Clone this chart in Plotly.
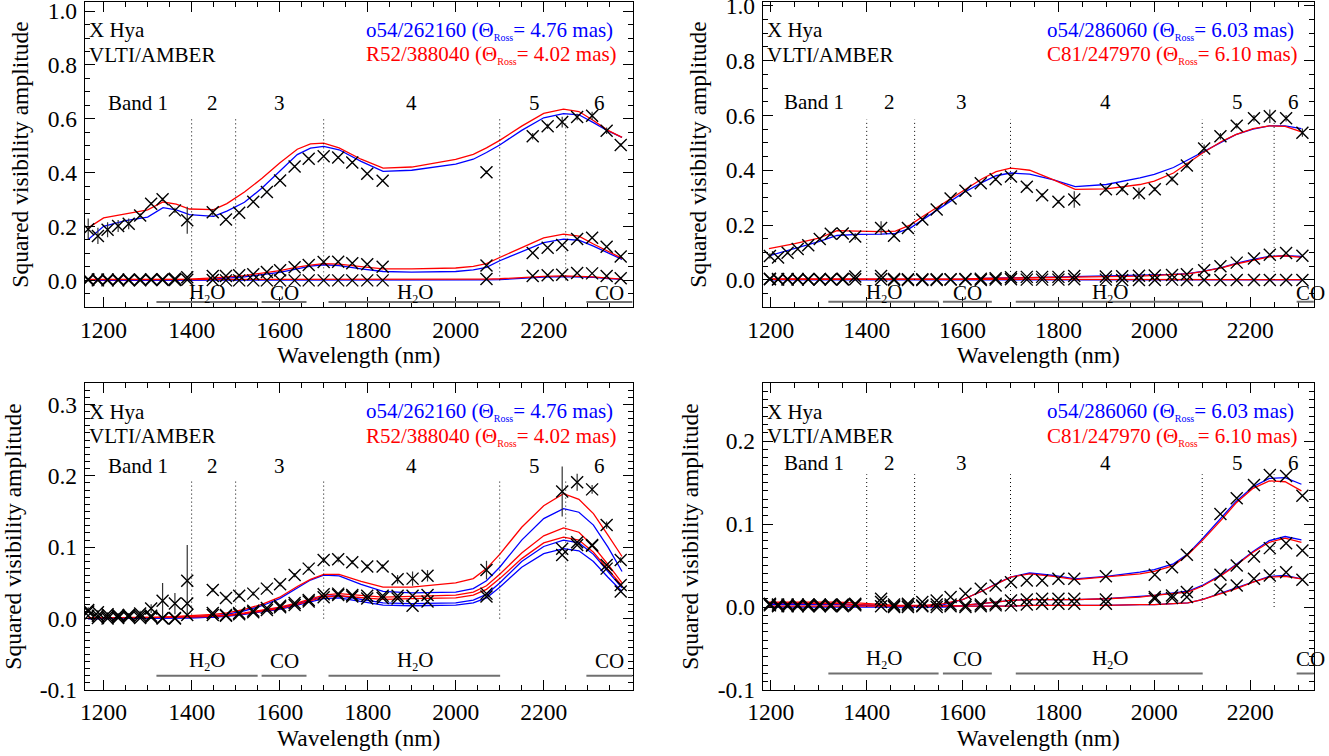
import plotly.graph_objects as go

# ---------------- data ----------------
# Panel 1 (top-left): o54/262160 (blue) vs R52/388040 (red)
P1_WL = [1165, 1187, 1209, 1233, 1257, 1283, 1308, 1334, 1362, 1390, 1448, 1478, 1508, 1540, 1571, 1601,
         1634, 1666, 1700, 1733, 1765, 1799, 1834, 2070, 2175, 2209, 2242, 2276, 2310, 2343, 2375]
P1_A = [0.190, 0.165, 0.188, 0.202, 0.210, 0.241, 0.285, 0.301, 0.260, 0.223, 0.253, 0.226, 0.251, 0.292,
        0.328, 0.371, 0.423, 0.452, 0.461, 0.456, 0.438, 0.396, 0.370, 0.402, 0.535, 0.572, 0.588, 0.607,
        0.611, 0.556, 0.503]
P1_A_ERR = [0.040, 0.030, 0.028, 0.022, 0.020, 0.008, 0.006, 0.006, 0.010, 0.050, 0.012, 0.005, 0.005, 0.004,
            0.004, 0.004, 0.004, 0.004, 0.004, 0.004, 0.004, 0.004, 0.004, 0.006, 0.012, 0.010, 0.020, 0.012,
            0.015, 0.012, 0.006]
P1_B = [0.004, 0.003, 0.003, 0.003, 0.003, 0.003, 0.004, 0.004, 0.006, 0.012, 0.016, 0.016, 0.019, 0.023,
        0.031, 0.038, 0.049, 0.057, 0.068, 0.069, 0.064, 0.060, 0.051, 0.055, 0.102, 0.121, 0.131, 0.154,
        0.158, 0.125, 0.089]
P1_C = [0.001, 0.000, 0.000, 0.000, 0.000, 0.000, 0.001, 0.001, 0.001, 0.002, 0.001, 0.000, 0.000, 0.000,
        0.000, 0.000, 0.000, 0.000, 0.000, 0.000, 0.000, 0.000, 0.000, 0.005, 0.016, 0.019, 0.021, 0.027,
        0.026, 0.016, 0.008]

# Panel 3 (bottom-left)
P3_WL = [1165, 1187, 1209, 1233, 1257, 1283, 1308, 1334, 1362, 1390, 1448, 1478, 1508, 1540, 1571, 1601,
         1634, 1666, 1700, 1733, 1765, 1799, 1834, 1868, 1902, 1936, 2070, 2242, 2276, 2310, 2343, 2375]
P3_A = [0.012, 0.009, 0.006, 0.005, 0.005, 0.007, 0.014, 0.025, 0.021, 0.053, 0.040, 0.029, 0.032, 0.035,
        0.042, 0.048, 0.061, 0.070, 0.082, 0.083, 0.079, 0.073, 0.073, 0.055, 0.056, 0.060, 0.068, 0.178,
        0.191, 0.181, 0.131, 0.082]
P3_A_ERR = [0.004, 0.003, 0.003, 0.003, 0.003, 0.004, 0.006, 0.025, 0.015, 0.050, 0.003, 0.003, 0.003, 0.003,
            0.003, 0.003, 0.003, 0.003, 0.004, 0.004, 0.003, 0.003, 0.003, 0.006, 0.010, 0.008, 0.013, 0.035,
            0.012, 0.006, 0.005, 0.004]
P3_B = [0.010, 0.004, 0.003, 0.003, 0.004, 0.004, 0.004, 0.001, 0.001, 0.021, 0.008, 0.005, 0.008, 0.011,
        0.015, 0.018, 0.022, 0.026, 0.034, 0.035, 0.033, 0.032, 0.032, 0.032, 0.032, 0.033, 0.035, 0.098,
        0.107, 0.103, 0.075, 0.047]
P3_C = [0.004, 0.001, 0.000, 0.001, 0.002, 0.001, 0.002, 0.000, 0.000, 0.005, 0.005, 0.004, 0.006, 0.009,
        0.012, 0.016, 0.019, 0.024, 0.030, 0.033, 0.031, 0.028, 0.029, 0.028, 0.018, 0.024, 0.031, 0.089,
        0.103, 0.102, 0.070, 0.038]

# model wavelength grid, left panels
LM_WL = [1165, 1200, 1250, 1300, 1335, 1365, 1395, 1450, 1480, 1520, 1560, 1600, 1640, 1670, 1700, 1735,
         1785, 1835, 1900, 2000, 2040, 2070, 2100, 2150, 2200, 2245, 2280, 2313, 2346, 2378]
P1_RED_A = [0.195, 0.232, 0.247, 0.262, 0.291, 0.283, 0.265, 0.263, 0.285, 0.328, 0.379, 0.436, 0.487, 0.507,
            0.510, 0.492, 0.450, 0.417, 0.421, 0.449, 0.468, 0.492, 0.520, 0.573, 0.620, 0.636, 0.627, 0.594,
            0.557, 0.531]
P1_BLUE_A = [0.152, 0.201, 0.222, 0.235, 0.270, 0.262, 0.244, 0.238, 0.257, 0.290, 0.343, 0.405, 0.467, 0.491,
             0.498, 0.485, 0.442, 0.405, 0.409, 0.432, 0.450, 0.475, 0.503, 0.557, 0.604, 0.619, 0.615, 0.586,
             0.555, 0.531]
P1_RED_B = [0.004, 0.004, 0.004, 0.005, 0.005, 0.005, 0.005, 0.009, 0.012, 0.018, 0.027, 0.036, 0.049, 0.057,
            0.062, 0.060, 0.051, 0.043, 0.043, 0.046, 0.052, 0.062, 0.085, 0.122, 0.158, 0.172, 0.164, 0.135,
            0.108, 0.082]
P1_BLUE_B = [0.001, 0.001, 0.001, 0.002, 0.002, 0.002, 0.002, 0.005, 0.008, 0.013, 0.021, 0.030, 0.043, 0.053,
             0.058, 0.055, 0.043, 0.033, 0.031, 0.033, 0.039, 0.048, 0.073, 0.108, 0.140, 0.153, 0.149, 0.127,
             0.102, 0.078]
P1_RED_C = [0.003, 0.003, 0.003, 0.003, 0.003, 0.003, 0.003, 0.003, 0.003, 0.003, 0.003, 0.003, 0.004, 0.004,
            0.004, 0.004, 0.004, 0.004, 0.004, 0.004, 0.004, 0.005, 0.006, 0.011, 0.015, 0.017, 0.016, 0.013,
            0.008, 0.005]
P1_BLUE_C = [0.000, 0.000, 0.000, 0.000, 0.000, 0.000, 0.000, 0.000, 0.000, 0.000, 0.000, 0.001, 0.001, 0.001,
             0.001, 0.001, 0.001, 0.001, 0.001, 0.001, 0.001, 0.002, 0.003, 0.008, 0.012, 0.014, 0.013, 0.011,
             0.007, 0.004]

P3_RED_A = [0.000, 0.000, 0.000, 0.001, 0.002, 0.003, 0.004, 0.006, 0.008, 0.013, 0.020, 0.030, 0.045, 0.055,
            0.062, 0.062, 0.052, 0.044, 0.044, 0.050, 0.056, 0.070, 0.090, 0.128, 0.158, 0.175, 0.167, 0.147,
            0.117, 0.087]
P3_BLUE_A = [0.000, 0.000, 0.000, 0.001, 0.001, 0.002, 0.002, 0.004, 0.006, 0.011, 0.018, 0.028, 0.043, 0.054,
             0.061, 0.060, 0.048, 0.038, 0.036, 0.037, 0.042, 0.053, 0.072, 0.110, 0.140, 0.154, 0.149, 0.131,
             0.100, 0.066]
P3_RED_B = [0.001, 0.001, 0.001, 0.002, 0.002, 0.002, 0.003, 0.004, 0.005, 0.008, 0.012, 0.016, 0.022, 0.027,
            0.033, 0.035, 0.033, 0.030, 0.031, 0.033, 0.037, 0.046, 0.062, 0.092, 0.116, 0.127, 0.121, 0.101,
            0.076, 0.050]
P3_BLUE_B = [0.000, 0.000, 0.000, 0.001, 0.001, 0.001, 0.001, 0.002, 0.004, 0.007, 0.011, 0.015, 0.021, 0.026,
             0.031, 0.032, 0.027, 0.022, 0.021, 0.022, 0.026, 0.034, 0.050, 0.080, 0.101, 0.110, 0.106, 0.090,
             0.066, 0.043]
P3_RED_C = [0.001, 0.001, 0.001, 0.001, 0.002, 0.002, 0.002, 0.003, 0.004, 0.007, 0.010, 0.014, 0.020, 0.025,
            0.030, 0.032, 0.030, 0.027, 0.028, 0.029, 0.033, 0.041, 0.056, 0.084, 0.106, 0.114, 0.110, 0.093,
            0.069, 0.046]
P3_BLUE_C = [0.000, 0.000, 0.000, 0.000, 0.001, 0.001, 0.001, 0.002, 0.003, 0.006, 0.009, 0.013, 0.019, 0.024,
             0.028, 0.029, 0.024, 0.019, 0.018, 0.019, 0.022, 0.029, 0.044, 0.072, 0.091, 0.098, 0.095, 0.080,
             0.058, 0.038]

# Panel 2 (top-right): o54/286060 (blue) vs C81/247970 (red)
P2_WL = [1198, 1215, 1235, 1256, 1278, 1302, 1325, 1350, 1376, 1430, 1457, 1486, 1516, 1546, 1575, 1606,
         1638, 1669, 1701, 1734, 1766, 1800, 1833, 1899, 1933, 1968, 2001, 2037, 2068, 2104, 2138, 2172,
         2208, 2241, 2275, 2309]
P2_A = [0.087, 0.082, 0.099, 0.113, 0.126, 0.149, 0.168, 0.169, 0.158, 0.189, 0.161, 0.189, 0.220, 0.257,
        0.297, 0.325, 0.353, 0.367, 0.377, 0.340, 0.309, 0.285, 0.293, 0.331, 0.332, 0.316, 0.331, 0.368,
        0.417, 0.479, 0.524, 0.562, 0.590, 0.597, 0.590, 0.537]
P2_A_ERR = [0.010, 0.005, 0.005, 0.005, 0.005, 0.005, 0.008, 0.006, 0.012, 0.025, 0.006, 0.006, 0.005, 0.005,
            0.005, 0.005, 0.005, 0.006, 0.012, 0.008, 0.008, 0.006, 0.030, 0.010, 0.010, 0.020, 0.008, 0.010,
            0.010, 0.015, 0.012, 0.010, 0.012, 0.025, 0.012, 0.015]
P2_B = [0.004, 0.003, 0.003, 0.003, 0.003, 0.003, 0.003, 0.004, 0.012, 0.014, 0.003, 0.002, 0.002, 0.002,
        0.002, 0.003, 0.004, 0.006, 0.010, 0.011, 0.011, 0.011, 0.014, 0.012, 0.013, 0.015, 0.016, 0.018,
        0.021, 0.035, 0.050, 0.063, 0.078, 0.092, 0.098, 0.088]
P2_C = [0.002, 0.001, 0.001, 0.001, 0.001, 0.001, 0.001, 0.001, 0.002, 0.002, 0.000, 0.000, 0.000, 0.000,
        0.001, 0.001, 0.000, 0.001, 0.002, 0.001, 0.001, 0.001, 0.002, 0.001, 0.000, 0.000, 0.000, 0.001,
        0.000, 0.000, 0.000, 0.000, 0.000, 0.000, 0.000, 0.000]

# Panel 4 (bottom-right)
P4_WL = [1198, 1215, 1235, 1256, 1278, 1302, 1325, 1350, 1376, 1430, 1457, 1486, 1516, 1546, 1575, 1606,
         1638, 1669, 1701, 1734, 1766, 1800, 1833, 1899, 2001, 2037, 2068, 2138, 2172, 2208, 2241, 2275, 2309]
P4_A = [0.004, 0.003, 0.003, 0.003, 0.003, 0.003, 0.003, 0.003, 0.004, 0.010, 0.003, 0.004, 0.006, 0.008,
        0.012, 0.016, 0.022, 0.026, 0.030, 0.032, 0.032, 0.034, 0.034, 0.037, 0.039, 0.048, 0.063, 0.112,
        0.131, 0.147, 0.159, 0.158, 0.134]
P4_B = [0.003, 0.002, 0.002, 0.002, 0.002, 0.002, 0.002, 0.002, 0.003, 0.006, 0.001, 0.002, 0.002, 0.003,
        0.003, 0.002, 0.003, 0.004, 0.008, 0.009, 0.010, 0.010, 0.010, 0.009, 0.012, 0.014, 0.018, 0.039,
        0.050, 0.061, 0.071, 0.077, 0.068]
P4_C = [0.002, 0.001, 0.001, 0.001, 0.001, 0.001, 0.001, 0.001, 0.002, 0.001, 0.000, 0.000, 0.001, 0.000,
        0.001, 0.000, 0.001, 0.002, 0.002, 0.003, 0.004, 0.004, 0.004, 0.004, 0.010, 0.011, 0.012, 0.021,
        0.026, 0.034, 0.038, 0.042, 0.033]

# model wavelength grid, right panels
RM_WL = [1196, 1250, 1300, 1338, 1380, 1430, 1460, 1490, 1520, 1560, 1600, 1640, 1670, 1700, 1740, 1790,
         1835, 1900, 1970, 2000, 2040, 2070, 2100, 2140, 2170, 2206, 2240, 2273, 2307]
P2_RED_A = [0.114, 0.132, 0.152, 0.180, 0.178, 0.176, 0.178, 0.200, 0.235, 0.280, 0.325, 0.368, 0.395, 0.408,
            0.400, 0.365, 0.330, 0.332, 0.348, 0.360, 0.390, 0.425, 0.462, 0.505, 0.530, 0.552, 0.562, 0.560,
            0.540]
P2_BLUE_A = [0.088, 0.115, 0.140, 0.162, 0.166, 0.167, 0.170, 0.188, 0.222, 0.270, 0.316, 0.355, 0.380, 0.390,
             0.386, 0.365, 0.340, 0.348, 0.372, 0.385, 0.410, 0.438, 0.467, 0.505, 0.530, 0.550, 0.562, 0.562,
             0.552]
P2_RED_B = [0.004, 0.004, 0.004, 0.003, 0.003, 0.002, 0.002, 0.002, 0.002, 0.003, 0.003, 0.005, 0.006, 0.008,
            0.009, 0.010, 0.011, 0.012, 0.014, 0.016, 0.019, 0.022, 0.030, 0.044, 0.058, 0.072, 0.084, 0.088,
            0.082]
P2_BLUE_B = [0.002, 0.002, 0.002, 0.002, 0.002, 0.001, 0.001, 0.001, 0.002, 0.002, 0.003, 0.005, 0.006, 0.008,
             0.010, 0.011, 0.012, 0.013, 0.015, 0.017, 0.020, 0.023, 0.031, 0.045, 0.060, 0.075, 0.086, 0.088,
             0.086]
P2_RED_C = [0.002, 0.002, 0.002, 0.002, 0.001, 0.001, 0.001, 0.001, 0.001, 0.001, 0.001, 0.001, 0.001, 0.001,
            0.001, 0.001, 0.001, 0.001, 0.001, 0.001, 0.001, 0.001, 0.001, 0.001, 0.001, 0.001, 0.001, 0.001,
            0.001]
P2_BLUE_C = [0.000, 0.000, 0.000, 0.000, 0.000, 0.000, 0.000, 0.000, 0.000, 0.000, 0.000, 0.000, 0.000, 0.000,
             0.000, 0.000, 0.000, 0.000, 0.000, 0.000, 0.000, 0.000, 0.000, 0.000, 0.000, 0.000, 0.000, 0.000,
             0.000]

P4_RED_A = [0.006, 0.006, 0.006, 0.006, 0.005, 0.003, 0.002, 0.002, 0.002, 0.004, 0.009, 0.019, 0.028, 0.036,
            0.040, 0.037, 0.033, 0.036, 0.040, 0.043, 0.050, 0.063, 0.080, 0.105, 0.125, 0.143, 0.152, 0.151,
            0.140]
P4_BLUE_A = [0.004, 0.004, 0.004, 0.004, 0.003, 0.002, 0.001, 0.001, 0.001, 0.003, 0.009, 0.019, 0.028, 0.036,
             0.041, 0.038, 0.034, 0.037, 0.042, 0.045, 0.052, 0.064, 0.082, 0.107, 0.127, 0.145, 0.155, 0.156,
             0.148]
P4_RED_B = [0.005, 0.005, 0.004, 0.004, 0.003, 0.002, 0.001, 0.001, 0.001, 0.001, 0.002, 0.004, 0.006, 0.008,
            0.009, 0.009, 0.009, 0.010, 0.012, 0.014, 0.016, 0.018, 0.025, 0.038, 0.050, 0.066, 0.078, 0.083,
            0.078]
P4_BLUE_B = [0.003, 0.003, 0.003, 0.003, 0.002, 0.001, 0.001, 0.001, 0.001, 0.001, 0.002, 0.004, 0.006, 0.008,
             0.009, 0.009, 0.009, 0.010, 0.013, 0.014, 0.017, 0.019, 0.026, 0.039, 0.051, 0.067, 0.080, 0.085,
             0.081]
P4_RED_C = [0.001, 0.001, 0.001, 0.001, 0.001, 0.001, 0.001, 0.001, 0.001, 0.001, 0.001, 0.001, 0.001, 0.001,
            0.002, 0.002, 0.002, 0.002, 0.003, 0.003, 0.004, 0.005, 0.009, 0.016, 0.022, 0.030, 0.036, 0.037,
            0.034]
P4_BLUE_C = [0.000, 0.000, 0.000, 0.000, 0.000, 0.000, 0.000, 0.000, 0.000, 0.000, 0.001, 0.001, 0.001, 0.001,
             0.002, 0.002, 0.002, 0.002, 0.003, 0.003, 0.004, 0.005, 0.009, 0.017, 0.023, 0.031, 0.037, 0.038,
             0.034]

# labels
SUB_ROSS = "<sub><span style='font-size:10px'>Ross</span></sub>"
SUB_2 = "<sub><span style='font-size:12px'>2</span></sub>"
LEFT_BLUE_LABEL = "o54/262160 (Θ" + SUB_ROSS + "= 4.76 mas)"
LEFT_RED_LABEL = "R52/388040 (Θ" + SUB_ROSS + "= 4.02 mas)"
RIGHT_BLUE_LABEL = "o54/286060 (Θ" + SUB_ROSS + "= 6.03 mas)"
RIGHT_RED_LABEL = "C81/247970 (Θ" + SUB_ROSS + "= 6.10 mas)"
BAND_TEXT = ["Band 1", "2", "3", "4", "5", "6"]
LEFT_BAND_X = [1277, 1448, 1600, 1900, 2178, 2327]
RIGHT_BAND_X = [1290, 1448, 1598, 1898, 2173, 2290]
BAND_EDGES = [1400, 1500, 1700, 2100, 2250]
MOL_TEXT = ["H" + SUB_2 + "O", "CO", "H" + SUB_2 + "O", "CO"]
MOL_SEGMENTS = [(1320, 1550), (1559, 1661), (1711, 2101), (2297, 2500)]
LEFT_MOL_X = [1435, 1610, 1907, 2350]
RIGHT_MOL_X = [1436, 1611, 1908, 2326]
X_TICKS = [1200, 1400, 1600, 1800, 2000, 2200]

# ---------------- figure ----------------
W, H = 1329, 756
FONT = "Liberation Serif"
BLUE, RED = "#0000ff", "#ff0000"
TICK_SIZE = 23.5
TITLE_SIZE = 23.5
TEXT_SIZE = 21


def fx(px):
    return px / W


def fy(py):
    return 1 - py / H


panels = [
    dict(xa="x", ya="y", xdom=[fx(84.7), fx(632.6)], ydom=[fy(307.3), fy(1.7)],
         xr=[1157, 2402], yr=[-0.1, 1.035], ymin=0.05,
         yvals=[0.0, 0.2, 0.4, 0.6, 0.8, 1.0], vtop=0.6,
         data=(P1_WL, P1_A, P1_A_ERR, P1_B, P1_C),
         mwl=LM_WL, models=[(P1_BLUE_A, P1_RED_A), (P1_BLUE_B, P1_RED_B), (P1_BLUE_C, P1_RED_C)],
         labels=(LEFT_BLUE_LABEL, LEFT_RED_LABEL), bandx=LEFT_BAND_X, bandy=0.670,
         molx=LEFT_MOL_X, moly=-0.047),
    dict(xa="x2", ya="y2", xdom=[fx(762.7), fx(1313.9)], ydom=[fy(307.3), fy(1.7)],
         xr=[1183, 2333], yr=[-0.1, 1.015], ymin=0.05,
         yvals=[0.0, 0.2, 0.4, 0.6, 0.8, 1.0], vtop=0.585,
         data=(P2_WL, P2_A, P2_A_ERR, P2_B, P2_C),
         mwl=RM_WL, models=[(P2_BLUE_A, P2_RED_A), (P2_BLUE_B, P2_RED_B), (P2_BLUE_C, P2_RED_C)],
         labels=(RIGHT_BLUE_LABEL, RIGHT_RED_LABEL), bandx=RIGHT_BAND_X, bandy=0.673,
         molx=RIGHT_MOL_X, moly=-0.047),
    dict(xa="x3", ya="y3", xdom=[fx(84.7), fx(632.6)], ydom=[fy(690), fy(383)],
         xr=[1157, 2402], yr=[-0.1, 0.33], ymin=0.01,
         yvals=[-0.1, 0.0, 0.1, 0.2, 0.3], vtop=0.195,
         data=(P3_WL, P3_A, P3_A_ERR, P3_B, P3_C),
         mwl=LM_WL, models=[(P3_BLUE_A, P3_RED_A), (P3_BLUE_B, P3_RED_B), (P3_BLUE_C, P3_RED_C)],
         labels=(LEFT_BLUE_LABEL, LEFT_RED_LABEL), bandx=LEFT_BAND_X, bandy=0.729,
         molx=LEFT_MOL_X, moly=-0.060),
    dict(xa="x4", ya="y4", xdom=[fx(762.7), fx(1313.9)], ydom=[fy(690), fy(383)],
         xr=[1183, 2333], yr=[-0.1, 0.27], ymin=0.01,
         yvals=[-0.1, 0.0, 0.1, 0.2], vtop=0.16,
         data=(P4_WL, P4_A, None, P4_B, P4_C),
         mwl=RM_WL, models=[(P4_BLUE_A, P4_RED_A), (P4_BLUE_B, P4_RED_B), (P4_BLUE_C, P4_RED_C)],
         labels=(RIGHT_BLUE_LABEL, RIGHT_RED_LABEL), bandx=RIGHT_BAND_X, bandy=0.739,
         molx=RIGHT_MOL_X, moly=-0.063),
]

fig = go.Figure()
layout = dict(width=W, height=H, margin=dict(l=0, r=0, t=0, b=0, pad=0),
              paper_bgcolor="white", plot_bgcolor="white", showlegend=False,
              font=dict(family=FONT, color="black", size=TEXT_SIZE))
annotations = []
shapes = []

marker = dict(symbol="x-thin", size=12, color="black", line=dict(width=1.4, color="black"))

for i, p in enumerate(panels):
    n = "" if i == 0 else str(i + 1)
    xa, ya = p["xa"], p["ya"]
    layout["xaxis" + n] = dict(
        domain=p["xdom"], range=p["xr"], anchor=ya, automargin=False, showline=True, mirror="allticks",
        linecolor="black", linewidth=1, ticks="inside", ticklen=10, tickwidth=1, tickcolor="black",
        tickmode="array", tickvals=X_TICKS, ticktext=[str(v) for v in X_TICKS],
        showgrid=False, zeroline=False, ticklabeloverflow="allow",
        minor=dict(dtick=50, tick0=0, ticks="inside", ticklen=5, tickcolor="black", showgrid=False),
        tickfont=dict(family=FONT, size=TICK_SIZE, color="black"), ticklabelstandoff=1,
        title=dict(text="Wavelength (nm)", font=dict(family=FONT, size=TITLE_SIZE, color="black"), standoff=3),
    )
    layout["yaxis" + n] = dict(
        domain=p["ydom"], range=p["yr"], anchor=xa, automargin=False, showline=True, mirror="allticks",
        linecolor="black", linewidth=1, ticks="inside", ticklen=10, tickwidth=1, tickcolor="black",
        tickmode="array", tickvals=p["yvals"], ticktext=["%.1f" % v for v in p["yvals"]],
        showgrid=False, zeroline=False, ticklabeloverflow="allow",
        minor=dict(dtick=p["ymin"], tick0=0, ticks="inside", ticklen=5, tickcolor="black", showgrid=False),
        tickfont=dict(family=FONT, size=TICK_SIZE, color="black"), ticklabelstandoff=2,
        title=dict(text="Squared visibility amplitude", font=dict(family=FONT, size=TITLE_SIZE, color="black"),
                   standoff=12),
    )

    wl, a, aerr, b, c = p["data"]
    # models
    for blue, red in p["models"]:
        fig.add_trace(go.Scatter(x=p["mwl"], y=blue, mode="lines", line=dict(color=BLUE, width=1.3),
                                 xaxis=xa, yaxis=ya, hoverinfo="skip"))
        fig.add_trace(go.Scatter(x=p["mwl"], y=red, mode="lines", line=dict(color=RED, width=1.3),
                                 xaxis=xa, yaxis=ya, hoverinfo="skip"))
    # data
    err = dict(type="data", array=aerr, visible=True, color="#333333", thickness=1.2, width=0) if aerr else None
    fig.add_trace(go.Scatter(x=wl, y=a, mode="markers", marker=marker, error_y=err, xaxis=xa, yaxis=ya))
    fig.add_trace(go.Scatter(x=wl, y=b, mode="markers", marker=marker, xaxis=xa, yaxis=ya))
    fig.add_trace(go.Scatter(x=wl, y=c, mode="markers", marker=marker, xaxis=xa, yaxis=ya))

    # band edges (dotted)
    for e in BAND_EDGES:
        shapes.append(dict(type="line", xref=xa, yref=ya, x0=e, x1=e, y0=0, y1=p["vtop"],
                           line=dict(color="black", width=1, dash="1px,3px")))
    # molecular band bars
    for (s0, s1) in MOL_SEGMENTS:
        shapes.append(dict(type="line", xref=xa, yref=ya, x0=s0, x1=min(s1, p["xr"][1]), y0=-0.08, y1=-0.08,
                           line=dict(color="#707070", width=2)))
    for txt, mx in zip(MOL_TEXT, p["molx"]):
        annotations.append(dict(xref=xa, yref=ya, x=mx, y=p["moly"], text=txt, showarrow=False,
                                font=dict(family=FONT, size=TEXT_SIZE, color="black"), xanchor="center",
                                yanchor="middle"))
    # band labels
    for txt, bx in zip(BAND_TEXT, p["bandx"]):
        annotations.append(dict(xref=xa, yref=ya + " domain", x=bx, y=p["bandy"], text=txt, showarrow=False,
                                font=dict(family=FONT, size=TEXT_SIZE, color="black"), xanchor="center",
                                yanchor="middle"))
    # object labels
    annotations.append(dict(xref=xa + " domain", yref=ya + " domain", x=0.004, y=0.906, text="X Hya",
                            showarrow=False, font=dict(family=FONT, size=TEXT_SIZE, color="black"),
                            xanchor="left", yanchor="middle"))
    annotations.append(dict(xref=xa + " domain", yref=ya + " domain", x=0.004, y=0.826, text="VLTI/AMBER",
                            showarrow=False, font=dict(family=FONT, size=TEXT_SIZE, color="black"),
                            xanchor="left", yanchor="middle"))
    annotations.append(dict(xref=xa + " domain", yref=ya + " domain", x=0.968, y=0.906, text=p["labels"][0],
                            showarrow=False, font=dict(family=FONT, size=TEXT_SIZE, color=BLUE),
                            xanchor="right", yanchor="middle"))
    annotations.append(dict(xref=xa + " domain", yref=ya + " domain", x=0.975, y=0.826, text=p["labels"][1],
                            showarrow=False, font=dict(family=FONT, size=TEXT_SIZE, color=RED),
                            xanchor="right", yanchor="middle"))

layout["annotations"] = annotations
layout["shapes"] = shapes
fig.update_layout(**layout)
fig.write_html(
    "out.html",
    config={"displayModeBar": False},
    post_script="document.body.style.margin='0';document.body.style.padding='0';"
                "document.documentElement.style.overflow='hidden';",
)
